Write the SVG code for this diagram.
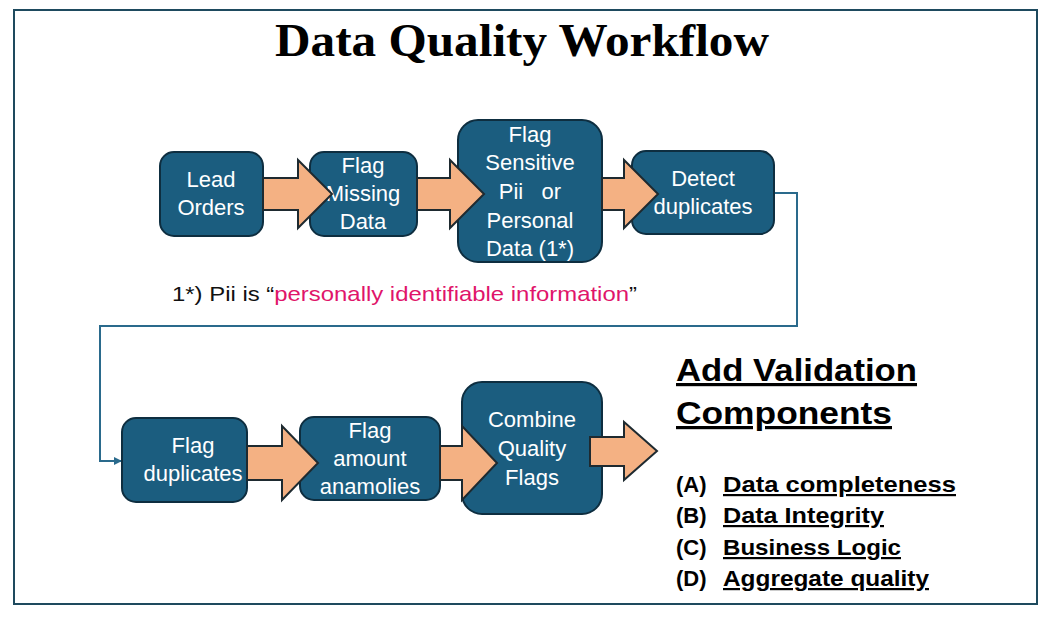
<svg xmlns="http://www.w3.org/2000/svg" width="1056" height="624" viewBox="0 0 1056 624">
<style>
.node rect{fill:#1B5D7F;stroke:#0E2E40;stroke-width:2}
.nt{font-family:"Liberation Sans",Arial,sans-serif;font-size:22px;fill:#fff;text-anchor:middle}
.arr{fill:#F4B183;stroke:#1E2A30;stroke-width:2}
.r{font-family:"Liberation Sans",Arial,sans-serif;font-weight:bold;fill:#000;text-decoration:underline}
</style>
<defs><marker id="m" markerWidth="8" markerHeight="8" refX="7" refY="4" orient="auto" markerUnits="userSpaceOnUse"><path d="M0,0 L8,4 L0,8 z" fill="#2A6A8C"/></marker></defs>
<rect x="0" y="0" width="1056" height="624" fill="#fff"/>
<rect x="14" y="10" width="1023" height="594" fill="none" stroke="#1E4A5E" stroke-width="2"/>
<text x="275" y="56" font-family="Liberation Serif,serif" font-weight="bold" font-size="46" textLength="494" lengthAdjust="spacingAndGlyphs">Data Quality Workflow</text>
<g id="connectors">
<path d="M774,193 H797 V326 H100 V461 H121" fill="none" stroke="#2A6A8C" stroke-width="2" marker-end="url(#m)"/>
</g>
<g id="n1" class="node"><rect x="160" y="152" width="103" height="84" rx="14"/><text class="nt" x="211" y="187">Lead</text><text class="nt" x="211" y="215">Orders</text></g>
<g id="n2" class="node"><rect x="310" y="152" width="107" height="84" rx="14"/><text class="nt" x="363" y="173">Flag</text><text class="nt" x="363" y="201">Missing</text><text class="nt" x="363" y="229">Data</text></g>
<g id="n3" class="node"><rect x="458" y="120" width="144" height="142" rx="20"/><text class="nt" x="530" y="142">Flag</text><text class="nt" x="530" y="170">Sensitive</text><text class="nt" x="530" y="199" xml:space="preserve">Pii   or</text><text class="nt" x="530" y="228">Personal</text><text class="nt" x="530" y="256">Data (1*)</text></g>
<g id="n4" class="node"><rect x="632" y="151" width="142" height="83" rx="14"/><text class="nt" x="703" y="186">Detect</text><text class="nt" x="703" y="214">duplicates</text></g>
<g id="n5" class="node"><rect x="122" y="418" width="125" height="84" rx="14"/><text class="nt" x="193" y="453">Flag</text><text class="nt" x="193" y="481">duplicates</text></g>
<g id="n6" class="node"><rect x="300" y="417" width="140" height="83" rx="14"/><text class="nt" x="370" y="438">Flag</text><text class="nt" x="370" y="466">amount</text><text class="nt" x="370" y="494">anamolies</text></g>
<g id="n7" class="node"><rect x="462" y="382" width="140" height="132" rx="20"/><text class="nt" x="532" y="427">Combine</text><text class="nt" x="532" y="456">Quality</text><text class="nt" x="532" y="485">Flags</text></g>
<g id="arrows">
<path class="arr" d="M263,178 H298 V160 L332,194 L298,228 V210 H263 Z"/>
<path class="arr" d="M417,178 H450 V160 L484,194 L450,228 V210 H417 Z"/>
<path class="arr" d="M602,178 H624 V160 L658,194 L624,228 V210 H602 Z"/>
<path class="arr" d="M247,446 H282 V426 L318,463 L282,500 V480 H247 Z"/>
<path class="arr" d="M440,446 H462 V426 L497,463 L462,500 V480 H440 Z"/>
<path class="arr" d="M590,437 H624 V422 L657,451 L624,480 V466 H590 Z"/>
</g>
<text x="172" y="301" font-family="Liberation Sans,Arial,sans-serif" font-size="21" fill="#111" textLength="465" lengthAdjust="spacingAndGlyphs">1*) Pii is “<tspan fill="#E0146A">personally identifiable information</tspan>”</text>
<text class="r" x="676" y="381" font-size="32" textLength="241" lengthAdjust="spacingAndGlyphs">Add Validation</text>
<text class="r" x="676" y="424" font-size="32" textLength="216" lengthAdjust="spacingAndGlyphs">Components</text>
<g font-family="Liberation Sans,Arial,sans-serif" font-weight="bold" font-size="22">
<text x="676" y="492">(A)</text><text class="r" x="723" y="492" textLength="233" lengthAdjust="spacingAndGlyphs">Data completeness</text>
<text x="676" y="523">(B)</text><text class="r" x="723" y="523" textLength="161" lengthAdjust="spacingAndGlyphs">Data Integrity</text>
<text x="676" y="555">(C)</text><text class="r" x="723" y="555" textLength="178" lengthAdjust="spacingAndGlyphs">Business Logic</text>
<text x="676" y="586">(D)</text><text class="r" x="723" y="586" textLength="206" lengthAdjust="spacingAndGlyphs">Aggregate quality</text>
</g>
</svg>
